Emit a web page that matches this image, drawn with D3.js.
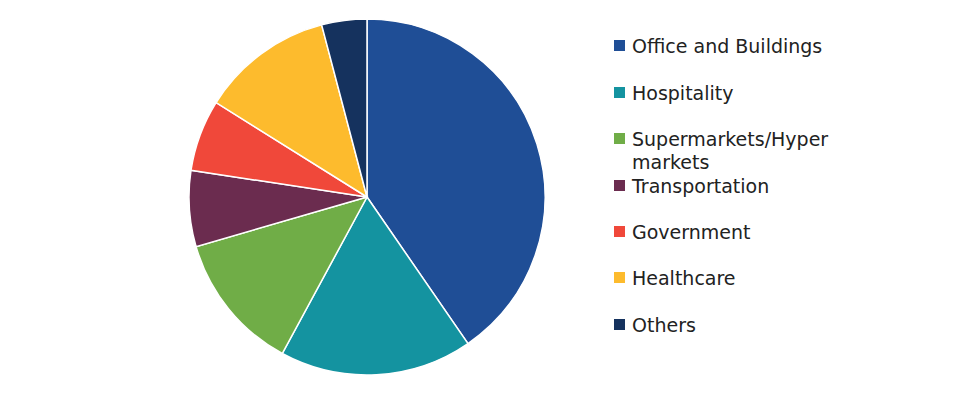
<!DOCTYPE html><html><head><script src="https://cdn.jsdelivr.net/npm/d3@7"></script>
<style>body{margin:0;background:#fff}</style></head><body><svg id="c" width="968" height="400"></svg>
<script>
const categories=["Office and Buildings","Hospitality","Supermarkets/Hyper markets","Transportation","Government","Healthcare","Others"];
const values=[40.4,17.5,12.6,6.9,6.5,12.0,4.1];
const colors=["#1F4E96","#1493A0","#70AD47","#6B2C4F","#F0483A","#FDBB2D","#15325E"];
const svg=d3.select("#c");
const g=svg.append("g").attr("transform","translate(367,197)");
const pie=d3.pie().sort(null)(values);
const arc=d3.arc().innerRadius(0).outerRadius(178);
g.selectAll("path").data(pie).join("path").attr("d",arc).attr("fill",(d,i)=>colors[i]).attr("stroke","#fff").attr("stroke-width",1.5);
const ys=[46,93,139,186,232,278,325];
const lg=svg.append("g");
categories.forEach((c,i)=>{
 lg.append("rect").attr("x",614).attr("y",ys[i]-6).attr("width",11).attr("height",11).attr("fill",colors[i]);
 const t=lg.append("text").attr("x",632).attr("y",ys[i]+7).attr("font-family","Verdana, DejaVu Sans, sans-serif").attr("font-size",19).attr("fill","#222");
 if(i==2){t.append("tspan").text("Supermarkets/Hyper");t.append("tspan").attr("x",632).attr("dy",23).text("markets");}
 else t.text(c);
});
</script></body></html>
